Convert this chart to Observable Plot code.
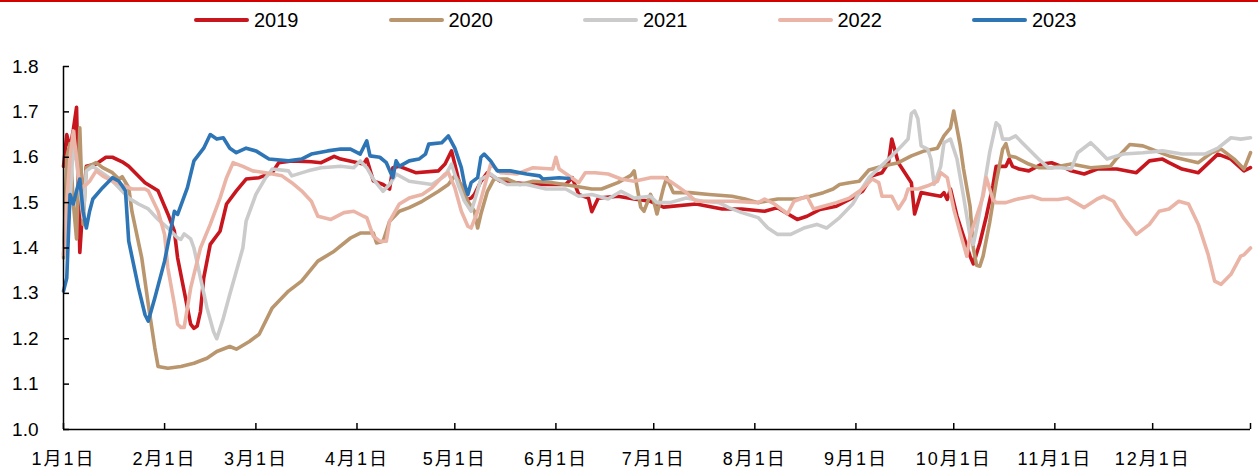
<!DOCTYPE html>
<html>
<head>
<meta charset="utf-8">
<script src="https://cdn.jsdelivr.net/npm/d3@7"></script>
<script src="https://cdn.jsdelivr.net/npm/@observablehq/plot@0.6"></script>
<style>
  html, body { margin: 0; padding: 0; background: #fff; }
  body { width: 1258px; height: 470px; overflow: hidden; position: relative;
         font-family: "Liberation Sans", Arial, "Noto Sans CJK SC", sans-serif; }
  #topline { position: absolute; left: 0; top: 0; width: 1258px; height: 2px; background: #d40000; }
  #legend { position: relative; height: 40px; }
  .item { position: absolute; top: 0; height: 40px; display: flex; align-items: center; font-size: 20px; color: #000; }
  .sw { width: 55px; height: 4px; margin-right: 5px; border-radius: 2px; }
  #chart svg { display: block; }
  #chart g[aria-label="x-axis tick label"] text { letter-spacing: 2px; }
</style>
</head>
<body>
<div id="topline"></div>
<div id="legend"></div>
<div id="chart"></div>
<script>
// Series: [day of year (0 = Jan 1), value]
const s2019 = [[0,1.58],[1,1.65],[2,1.62],[3,1.66],[4,1.71],[5,1.39],[6,1.50],[7,1.58],[10,1.585],[13,1.60],[15,1.60],[18,1.59],[20,1.58],[25,1.544],[29,1.526],[32,1.475],[34,1.437],[35,1.378],[37,1.305],[39,1.232],[40,1.223],[41,1.228],[42,1.26],[43,1.334],[45,1.408],[48,1.437],[50,1.497],[53,1.526],[56,1.552],[60,1.555],[64,1.566],[66,1.588],[70,1.592],[76,1.59],[79,1.588],[83,1.602],[85,1.596],[92,1.585],[93,1.596],[95,1.548],[98,1.54],[100,1.53],[101,1.577],[103,1.58],[108,1.566],[115,1.57],[117,1.585],[119,1.614],[121,1.555],[123,1.505],[125,1.51],[126,1.518],[128,1.547],[130,1.566],[134,1.547],[144,1.54],[154,1.54],[156,1.555],[158,1.518],[161,1.51],[162,1.48],[164,1.51],[170,1.514],[175,1.508],[180,1.503],[184,1.49],[194,1.497],[202,1.486],[208,1.486],[215,1.481],[219,1.489],[221,1.48],[225,1.463],[228,1.47],[232,1.485],[237,1.492],[241,1.507],[245,1.525],[248,1.559],[251,1.566],[253,1.588],[254,1.64],[256,1.588],[258,1.566],[260,1.544],[261,1.475],[263,1.522],[266,1.518],[269,1.514],[270,1.522],[271,1.507],[272,1.53],[274,1.47],[276,1.426],[278,1.382],[279,1.365],[281,1.411],[283,1.47],[285,1.537],[286,1.58],[289,1.58],[290,1.596],[291,1.58],[293,1.574],[296,1.57],[300,1.585],[303,1.588],[307,1.577],[309,1.57],[313,1.563],[317,1.574],[323,1.574],[329,1.566],[333,1.592],[337,1.596],[339,1.588],[343,1.574],[348,1.566],[354,1.607],[358,1.596],[362,1.57],[364,1.577]];

const s2020 = [[0,1.378],[1,1.60],[2,1.63],[3,1.50],[4,1.42],[5,1.665],[6,1.452],[7,1.577],[10,1.588],[12,1.577],[15,1.566],[17,1.552],[18,1.557],[20,1.533],[21,1.48],[24,1.378],[26,1.276],[28,1.18],[29,1.139],[32,1.135],[36,1.139],[40,1.146],[44,1.157],[47,1.172],[51,1.183],[53,1.177],[57,1.194],[60,1.21],[64,1.268],[69,1.305],[73,1.327],[78,1.371],[83,1.393],[88,1.422],[91,1.433],[95,1.433],[96,1.411],[98,1.415],[100,1.459],[103,1.481],[106,1.489],[110,1.503],[115,1.525],[118,1.54],[120,1.559],[122,1.54],[124,1.503],[126,1.481],[127,1.444],[128,1.475],[130,1.525],[132,1.552],[136,1.552],[140,1.54],[144,1.547],[150,1.544],[156,1.537],[162,1.53],[165,1.53],[170,1.544],[174,1.56],[175,1.57],[177,1.49],[178,1.481],[180,1.518],[181,1.503],[182,1.475],[184,1.533],[185,1.555],[187,1.522],[192,1.522],[198,1.518],[205,1.514],[209,1.508],[213,1.50],[219,1.508],[225,1.508],[229,1.514],[233,1.522],[236,1.53],[238,1.54],[241,1.544],[244,1.547],[247,1.572],[251,1.58],[256,1.588],[260,1.603],[264,1.614],[268,1.62],[270,1.647],[272,1.665],[273,1.702],[275,1.625],[276,1.574],[278,1.492],[279,1.40],[280,1.362],[281,1.36],[282,1.382],[284,1.456],[286,1.544],[288,1.618],[289,1.63],[290,1.603],[292,1.60],[296,1.585],[299,1.577],[303,1.577],[309,1.585],[315,1.577],[321,1.58],[323,1.598],[327,1.628],[331,1.625],[335,1.614],[339,1.603],[343,1.596],[348,1.588],[352,1.61],[355,1.618],[359,1.596],[362,1.574],[364,1.61]];

const s2021 = [[0,1.40],[1,1.43],[2,1.50],[3,1.63],[4,1.59],[5,1.53],[6,1.467],[7,1.57],[9,1.58],[11,1.57],[14,1.555],[17,1.533],[20,1.51],[23,1.497],[26,1.486],[29,1.463],[32,1.444],[35,1.422],[36,1.419],[37,1.431],[39,1.42],[40,1.40],[42,1.334],[44,1.268],[46,1.216],[47,1.20],[49,1.245],[51,1.298],[53,1.349],[55,1.40],[56,1.459],[59,1.518],[62,1.555],[63,1.563],[64,1.574],[69,1.57],[70,1.559],[75,1.57],[79,1.577],[85,1.58],[89,1.577],[91,1.592],[93,1.577],[95,1.552],[98,1.525],[100,1.54],[102,1.563],[106,1.547],[113,1.54],[117,1.559],[119,1.585],[121,1.54],[123,1.503],[125,1.481],[126,1.503],[128,1.552],[131,1.563],[133,1.552],[136,1.54],[142,1.54],[148,1.53],[154,1.53],[158,1.514],[162,1.518],[167,1.508],[171,1.525],[175,1.51],[180,1.514],[182,1.50],[186,1.50],[191,1.51],[196,1.503],[201,1.50],[204,1.489],[208,1.478],[213,1.467],[216,1.444],[219,1.43],[223,1.43],[227,1.444],[231,1.452],[234,1.444],[238,1.467],[242,1.497],[245,1.533],[247,1.555],[253,1.596],[257,1.625],[259,1.64],[260,1.696],[261,1.702],[262,1.685],[263,1.625],[265,1.618],[266,1.596],[267,1.54],[269,1.58],[270,1.632],[272,1.64],[274,1.596],[276,1.514],[278,1.426],[279,1.408],[280,1.442],[282,1.522],[284,1.61],[286,1.676],[287,1.669],[288,1.64],[290,1.64],[292,1.647],[294,1.632],[299,1.596],[302,1.577],[306,1.577],[309,1.574],[311,1.61],[315,1.632],[317,1.618],[320,1.596],[325,1.607],[331,1.61],[337,1.614],[343,1.607],[350,1.607],[354,1.62],[358,1.643],[361,1.64],[364,1.643]];

const s2022 = [[0,1.386],[1,1.50],[2,1.60],[3,1.658],[4,1.60],[5,1.53],[7,1.54],[8,1.547],[10,1.57],[12,1.559],[15,1.547],[20,1.533],[21,1.53],[25,1.53],[26,1.526],[29,1.481],[31,1.43],[32,1.356],[34,1.276],[35,1.232],[36,1.225],[37,1.225],[39,1.312],[42,1.40],[45,1.452],[48,1.51],[50,1.555],[52,1.588],[55,1.58],[58,1.57],[62,1.566],[67,1.559],[70,1.544],[73,1.526],[76,1.503],[78,1.47],[82,1.463],[86,1.478],[89,1.481],[92,1.47],[93,1.467],[95,1.426],[97,1.415],[99,1.415],[100,1.459],[103,1.497],[106,1.51],[110,1.518],[113,1.533],[117,1.563],[118,1.566],[120,1.533],[122,1.481],[124,1.448],[125,1.444],[127,1.481],[129,1.533],[131,1.585],[134,1.566],[139,1.563],[144,1.577],[150,1.574],[151,1.60],[152,1.574],[158,1.544],[160,1.566],[163,1.566],[167,1.563],[171,1.552],[175,1.547],[180,1.555],[184,1.555],[186,1.547],[188,1.537],[191,1.522],[194,1.503],[205,1.503],[213,1.50],[215,1.508],[218,1.497],[221,1.481],[222,1.475],[224,1.503],[228,1.514],[230,1.486],[233,1.492],[237,1.50],[241,1.51],[245,1.53],[248,1.552],[250,1.544],[251,1.514],[254,1.514],[256,1.486],[258,1.508],[259,1.53],[262,1.53],[265,1.537],[268,1.547],[269,1.566],[271,1.555],[273,1.486],[275,1.433],[277,1.382],[278,1.426],[280,1.47],[282,1.514],[283,1.555],[285,1.507],[286,1.50],[289,1.50],[292,1.507],[297,1.514],[300,1.507],[305,1.507],[308,1.51],[313,1.489],[317,1.508],[319,1.514],[322,1.503],[325,1.467],[329,1.43],[333,1.452],[336,1.481],[339,1.486],[342,1.503],[345,1.497],[348,1.452],[351,1.386],[353,1.327],[355,1.32],[358,1.342],[361,1.382],[362,1.385],[364,1.40]];

const s2023 = [[0,1.305],[1,1.334],[2,1.518],[3,1.497],[4,1.526],[5,1.552],[6,1.481],[7,1.444],[8,1.481],[9,1.508],[12,1.533],[15,1.555],[17,1.547],[19,1.526],[20,1.415],[23,1.312],[25,1.253],[26,1.239],[28,1.29],[31,1.371],[34,1.481],[35,1.474],[38,1.533],[40,1.592],[43,1.62],[45,1.65],[47,1.64],[49,1.643],[51,1.62],[53,1.61],[56,1.62],[59,1.614],[63,1.596],[69,1.592],[73,1.596],[76,1.607],[81,1.614],[85,1.618],[88,1.618],[91,1.607],[93,1.636],[94,1.603],[97,1.60],[99,1.588],[101,1.555],[102,1.592],[103,1.58],[106,1.592],[109,1.596],[111,1.607],[112,1.629],[116,1.632],[118,1.647],[120,1.62],[122,1.577],[123,1.54],[124,1.518],[125,1.544],[127,1.555],[128,1.60],[129,1.607],[131,1.592],[133,1.57],[137,1.57],[142,1.563],[146,1.559],[147,1.552],[152,1.555],[155,1.553]];

const years = ["2019", "2020", "2021", "2022", "2023"];
const seriesList = [s2019, s2020, s2021, s2022, s2023];
const colors = ["#C8161E", "#B9966E", "#CBCBCB", "#EAB4A6", "#2E75B6"];
const yTicks = [1.0, 1.1, 1.2, 1.3, 1.4, 1.5, 1.6, 1.7, 1.8];

const start = new Date(Date.UTC(2019, 0, 1));
const end = new Date(Date.UTC(2019, 11, 31));
const monthStarts = d3.range(12).map(m => new Date(Date.UTC(2019, m, 1)));
const toDate = d => new Date(Date.UTC(2019, 0, 1 + d));

// Legend
const legend = document.getElementById("legend");
years.forEach((yr, i) => {
  const item = document.createElement("div");
  item.className = "item";
  item.style.left = (194 + i * 194.5) + "px";
  item.innerHTML = `<span class="sw" style="background:${colors[i]}"></span><span>${yr}</span>`;
  legend.appendChild(item);
});

const lineMarks = seriesList.map((s, i) =>
  Plot.line(s, {
    x: d => toDate(d[0]),
    y: d => d[1],
    stroke: colors[i],
    strokeWidth: 3.6,
    strokeLinejoin: "round",
    strokeLinecap: "round"
  })
);

const chart = Plot.plot({
  width: 1258,
  height: 430,
  marginLeft: 63,
  marginRight: 8,
  marginTop: 26,
  marginBottom: 41,
  style: {
    fontFamily: '"Liberation Sans", Arial, "Noto Sans CJK SC", sans-serif',
    fontSize: "19px",
    color: "#000",
    background: "#fff",
    overflow: "visible"
  },
  x: { type: "utc", domain: [start, end] },
  y: { domain: [1.0, 1.8] },
  marks: [
    ...lineMarks,
    Plot.ruleX([start], { stroke: "#000", strokeWidth: 1.5 }),
    Plot.ruleY([1.0], { stroke: "#000", strokeWidth: 1.5 }),
    Plot.axisY({ ticks: yTicks, tickSize: 0, tickPadding: 25, tickFormat: d => d.toFixed(1), fontSize: 19 }),
    Plot.axisY({ ticks: yTicks, tickSize: -6, text: null, strokeWidth: 1.5 }),
    Plot.axisX({ ticks: monthStarts, tickSize: 0, tickPadding: 23, fontSize: 18,
                 tickFormat: d => `${d.getUTCMonth() + 1}月1日` }),
    Plot.axisX({ ticks: [...monthStarts, end], tickSize: -6, text: null, strokeWidth: 1.5 })
  ]
});
document.getElementById("chart").appendChild(chart);
</script>
</body>
</html>
